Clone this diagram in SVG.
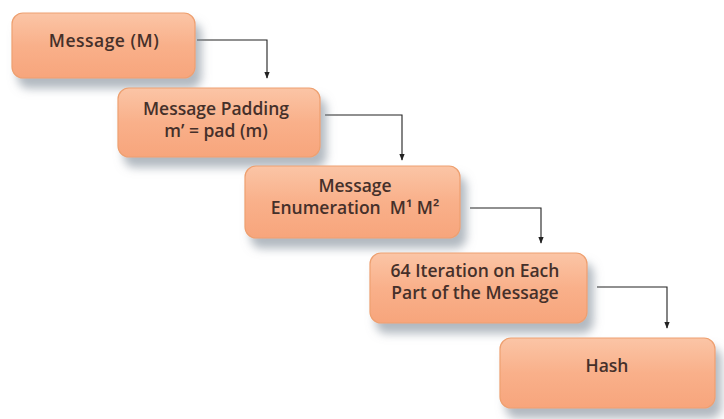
<svg xmlns="http://www.w3.org/2000/svg" width="724" height="419" viewBox="0 0 724 419">
<defs>
<linearGradient id="g" x1="0" y1="0" x2="0" y2="1">
<stop offset="0" stop-color="#fbc5a6"/>
<stop offset="0.5" stop-color="#f9b08a"/>
<stop offset="1" stop-color="#f7a57c"/>
</linearGradient>
<filter id="sh" x="-10%" y="-10%" width="125%" height="150%">
<feDropShadow dx="6" dy="10" stdDeviation="5" flood-color="#7f8a96" flood-opacity="0.6"/>
</filter>
<marker id="ah" viewBox="0 0 10 10" refX="9" refY="5" markerWidth="6" markerHeight="6" orient="auto">
<path d="M0,1 L10,5 L0,9 z" fill="#222"/>
</marker>
<style>
.box{fill:url(#g);stroke:#eea070;stroke-width:1.2;filter:url(#sh)}
.t{font-family:"Open Sans","Liberation Sans",sans-serif;font-size:17.5px;font-weight:600;fill:#45302a;text-anchor:middle}
.c{fill:none;stroke:#222;stroke-width:1.1;marker-end:url(#ah)}
</style>
</defs>
<rect width="724" height="419" fill="#ffffff"/>
<g id="connectors">
<path class="c" d="M197,40 H267 V78"/>
<path class="c" d="M325,115 H402 V160"/>
<path class="c" d="M470,208 H541 V243"/>
<path class="c" d="M597,287 H667 V328"/>
</g>
<g id="n1">
<rect class="box" x="12" y="13" width="183" height="65" rx="11"/>
<text class="t" x="104" y="47" letter-spacing="0.5">Message (M)</text>
</g>
<g id="n2">
<rect class="box" x="118" y="88" width="202" height="69" rx="11"/>
<text class="t" x="216" y="115">Message Padding</text>
<text class="t" x="216" y="137">m’ = pad (m)</text>
</g>
<g id="n3">
<rect class="box" x="245" y="166" width="215" height="72" rx="11"/>
<text class="t" x="355" y="192">Message</text>
<text class="t" x="355" y="214" xml:space="preserve">Enumeration  M¹ M²</text>
</g>
<g id="n4">
<rect class="box" x="370" y="253" width="217" height="70" rx="11"/>
<text class="t" x="475" y="277">64 Iteration on Each</text>
<text class="t" x="475" y="299">Part of the Message</text>
</g>
<g id="n5">
<rect class="box" x="500" y="338" width="215" height="70" rx="11"/>
<text class="t" x="607" y="372">Hash</text>
</g>
</svg>
